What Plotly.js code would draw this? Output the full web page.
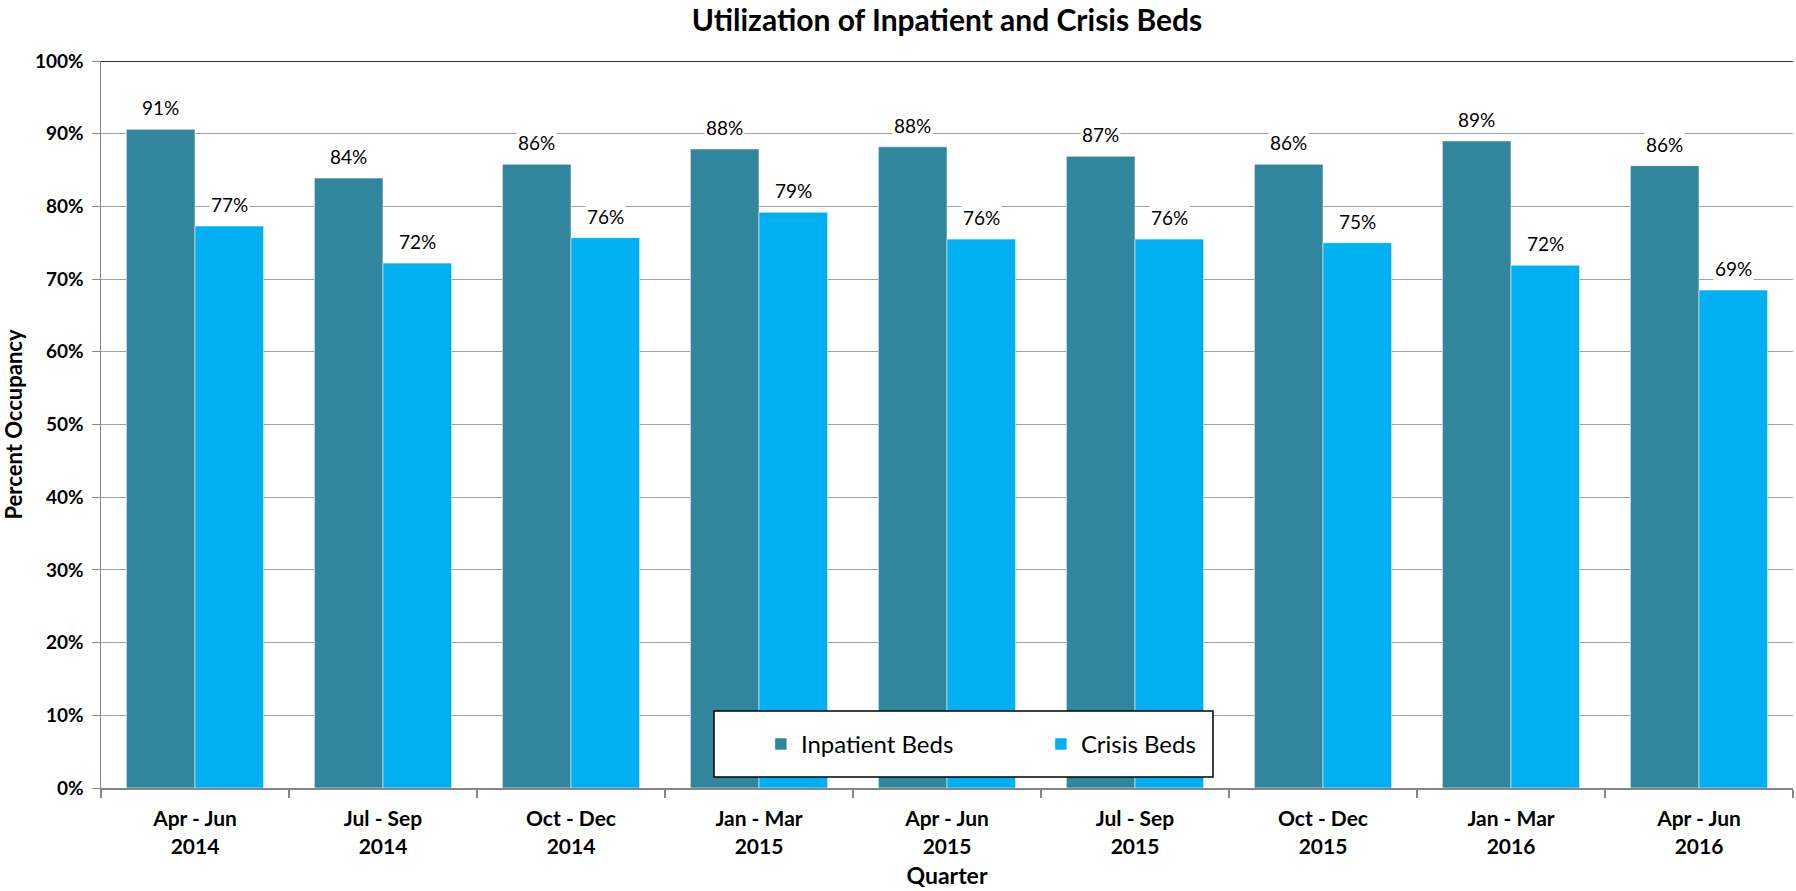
<!DOCTYPE html>
<html>
<head>
<meta charset="utf-8">
<script src="https://cdn.plot.ly/plotly-3.0.1.min.js"></script>
<style>html,body{margin:0;padding:0;background:#fff;}#chart{width:1796px;height:891px;}</style>
</head>
<body>
<div id="chart"></div>
<script>
const quarters = ["Apr - Jun<br>2014","Jul - Sep<br>2014","Oct - Dec<br>2014","Jan - Mar<br>2015","Apr - Jun<br>2015","Jul - Sep<br>2015","Oct - Dec<br>2015","Jan - Mar<br>2016","Apr - Jun<br>2016"];
const inpatient = [90.6, 83.9, 85.8, 87.9, 88.2, 86.9, 85.8, 89.0, 85.6];
const crisis = [77.3, 72.2, 75.7, 79.2, 75.5, 75.5, 75.0, 71.9, 68.5];
const seriesNames = ["Inpatient Beds", "Crisis Beds"];
const seriesColors = ["#31859C", "#00B0F0"];

const FONT = "Lato, 'Open Sans', sans-serif";
const bargap = 0.27;
const half = (1 - bargap) / 4;

const traces = [inpatient, crisis].map((vals, k) => ({
  type: "bar",
  name: seriesNames[k],
  x: quarters,
  y: vals,
  marker: {color: seriesColors[k], line: {color: "rgba(255,255,255,0.55)", width: 1}},
  hoverinfo: "skip"
}));

const annotations = [];
[inpatient, crisis].forEach((vals, k) => {
  vals.forEach((v, i) => {
    annotations.push({
      x: i + (k === 0 ? -half : half), y: v, xref: "x", yref: "y",
      text: v.toFixed(0) + "%", showarrow: false,
      yanchor: "bottom", yshift: 8,
      bgcolor: "#fff", borderpad: 1,
      font: {family: FONT, size: 19, color: "#000"}
    });
  });
});

const layout = {
  width: 1796, height: 891,
  paper_bgcolor: "#fff", plot_bgcolor: "#fff",
  margin: {l: 101, r: 3, t: 61, b: 103},
  title: {text: "<b>Utilization of Inpatient and Crisis Beds</b>", xref: "paper", x: 0.5, xanchor: "center", y: 0.977, yanchor: "middle",
          font: {family: FONT, size: 30, color: "#000"}},
  barmode: "group", bargap: bargap, bargroupgap: 0,
  showlegend: true,
  legend: {orientation: "h", x: 0.39, xanchor: "left", y: 0.06, yanchor: "middle",
           bgcolor: "rgba(0,0,0,0)", borderwidth: 0,
           entrywidth: 235, entrywidthmode: "pixels",
           font: {family: FONT, size: 24, color: "#000"}},
  xaxis: {
    type: "category",
    tickfont: {family: FONT, size: 21, color: "#000", weight: "bold"},
    showline: true, linecolor: "#868686", linewidth: 2,
    ticks: "outside", tickson: "boundaries", ticklen: 8, tickcolor: "#868686", tickwidth: 1.5,
    ticklabelstandoff: 11,
    showgrid: false,
    title: {text: "<b>Quarter</b>", font: {family: FONT, size: 23, color: "#000"}, standoff: 11}
  },
  yaxis: {
    range: [0, 100], dtick: 10, ticksuffix: "%",
    tickfont: {family: FONT, size: 19, color: "#000", weight: "bold"},
    showline: true, linecolor: "#868686", linewidth: 1.5,
    ticks: "outside", ticklen: 8, tickcolor: "#868686",
    ticklabelstandoff: 4,
    showgrid: true, gridcolor: "#a0a0a0", gridwidth: 1, zeroline: false,
    title: {text: "<b>Percent Occupancy</b>", font: {family: FONT, size: 22, color: "#000"}, standoff: 10}
  },
  shapes: [
    {type: "line", xref: "paper", yref: "y", x0: 0, x1: 1, y0: 100, y1: 100, line: {color: "#333", width: 2}},
    {type: "rect", xref: "paper", yref: "paper", x0: 0.3623, x1: 0.6572, y0: 0.0151, y1: 0.1059,
     fillcolor: "#fff", line: {color: "#000", width: 1.5}, layer: "above"}
  ],
  annotations: annotations
};

Plotly.newPlot("chart", traces, layout, {displayModeBar: false, staticPlot: true});
</script>
</body>
</html>
